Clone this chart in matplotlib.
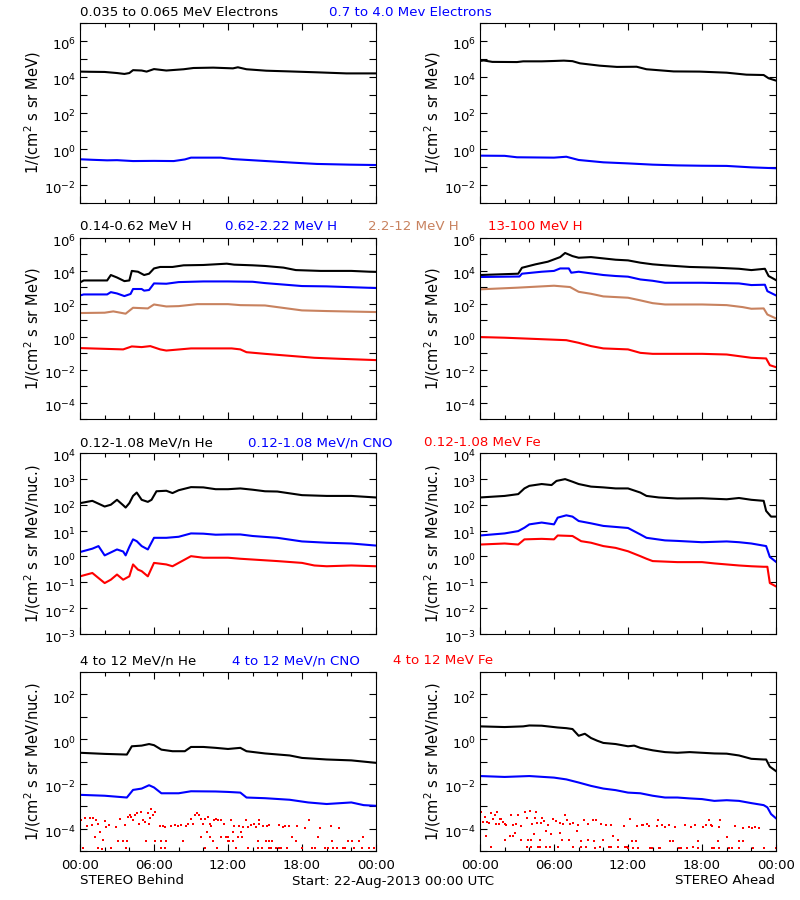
import numpy as np
import matplotlib
matplotlib.use('Agg')
import matplotlib.pyplot as plt
from matplotlib.ticker import MultipleLocator, NullLocator
from matplotlib.transforms import ScaledTranslation

# values are log10 of the flux, times are hours after 22-Aug-2013 00:00 UTC
# --- electrons (row 1), B = STEREO Behind, A = STEREO Ahead
e_lo_B_t = [0, 0.8, 2.0, 3.0, 3.6, 4.0, 4.3, 5.0, 5.4, 6.0, 7.0, 8.4, 9.2, 10.8, 12.4, 12.8, 13.5, 15.1, 17.0, 19.2, 21.6, 24]
e_lo_B_v = [4.30, 4.29, 4.28, 4.22, 4.17, 4.22, 4.38, 4.36, 4.30, 4.44, 4.36, 4.43, 4.50, 4.52, 4.48, 4.54, 4.43, 4.35, 4.31, 4.26, 4.20, 4.20]
e_hi_B_t = [0, 1, 2.2, 3, 4.3, 6, 7.6, 8.5, 9, 11.4, 12.4, 15.1, 17.3, 19.2, 21.9, 24]
e_hi_B_v = [-0.57, -0.60, -0.63, -0.62, -0.67, -0.66, -0.67, -0.58, -0.48, -0.48, -0.56, -0.67, -0.76, -0.83, -0.87, -0.89]
e_lo_A_t = [0, 0.3, 1, 3, 3.5, 5, 6, 6.8, 7.5, 8.1, 9.7, 11.1, 12.7, 13.5, 15.7, 17.8, 20, 21.6, 23, 23.4, 24]
e_lo_A_v = [4.89, 4.92, 4.84, 4.83, 4.87, 4.87, 4.89, 4.91, 4.88, 4.76, 4.63, 4.56, 4.57, 4.43, 4.31, 4.30, 4.24, 4.13, 4.11, 3.93, 3.80]
e_hi_A_t = [0, 2, 3, 6, 7, 8, 10, 12, 14, 16, 18, 20, 22, 24]
e_hi_A_v = [-0.37, -0.38, -0.46, -0.48, -0.43, -0.61, -0.74, -0.80, -0.87, -0.91, -0.93, -0.94, -1.02, -1.07]

# --- protons (row 2)
h1_B_t = [0, 0.3, 2.2, 2.5, 3.0, 3.6, 4.0, 4.2, 4.7, 5.2, 5.6, 6.0, 6.5, 7.5, 8.4, 10, 11.9, 12.5, 14, 15, 16.5, 17.5, 19.5, 22, 23.5, 24]
h1_B_v = [3.30, 3.42, 3.42, 3.75, 3.60, 3.38, 3.42, 4.00, 3.95, 3.75, 3.83, 4.15, 4.24, 4.24, 4.34, 4.36, 4.44, 4.38, 4.34, 4.30, 4.20, 4.05, 4.00, 4.00, 3.95, 3.94]
h2_B_t = [0, 0.3, 2.2, 2.5, 3, 3.6, 4.1, 4.3, 5, 5.2, 5.6, 6, 7, 8, 10, 12, 14, 15, 17, 18, 20, 24]
h2_B_v = [2.51, 2.57, 2.57, 2.71, 2.63, 2.47, 2.60, 2.90, 2.90, 2.80, 2.84, 3.24, 3.22, 3.32, 3.36, 3.36, 3.34, 3.26, 3.14, 3.08, 3.06, 2.96]
h3_B_t = [0, 2.0, 2.7, 3.7, 4.3, 5.5, 6, 7, 8, 9.5, 12, 13, 15, 17, 18, 20, 24]
h3_B_v = [1.44, 1.46, 1.54, 1.40, 1.76, 1.72, 1.96, 1.84, 1.86, 1.98, 1.98, 1.92, 1.90, 1.70, 1.60, 1.56, 1.50]
h4_B_t = [0, 3.5, 4.2, 5, 5.7, 6.5, 7, 9, 12.3, 13, 13.5, 15, 17, 19, 21, 24]
h4_B_v = [-0.69, -0.77, -0.59, -0.63, -0.57, -0.77, -0.84, -0.71, -0.71, -0.77, -0.94, -1.04, -1.16, -1.28, -1.34, -1.42]

h1_A_t = [0, 3.1, 3.4, 4.5, 5.5, 6.5, 6.9, 7.5, 8, 9, 10, 11, 12, 13, 14, 15, 17, 19, 21, 22, 23.1, 23.4, 24]
h1_A_v = [3.75, 3.83, 4.19, 4.40, 4.56, 4.84, 5.09, 4.90, 4.80, 4.84, 4.76, 4.68, 4.64, 4.50, 4.40, 4.34, 4.24, 4.20, 4.13, 4.05, 4.13, 3.69, 3.44]
h2_A_t = [0, 3.2, 3.4, 5, 6, 6.5, 7.2, 7.4, 8, 10, 11, 12, 13, 14, 15, 18, 21, 22, 23.1, 23.3, 24]
h2_A_v = [3.63, 3.66, 3.83, 3.95, 4.00, 4.15, 4.15, 3.89, 3.95, 3.75, 3.69, 3.65, 3.48, 3.40, 3.28, 3.28, 3.24, 3.14, 3.16, 2.77, 2.51]
h3_A_t = [0, 3, 6, 7.3, 8, 9, 10, 12, 13, 14, 15, 18, 20, 21.3, 22, 23, 23.3, 24]
h3_A_v = [2.88, 2.98, 3.10, 3.02, 2.73, 2.61, 2.45, 2.37, 2.21, 2.04, 1.96, 1.96, 1.92, 1.80, 1.70, 1.72, 1.35, 1.11]
h4_A_t = [0, 2, 5, 7, 8, 9, 10, 12, 13, 14, 18, 20, 22, 23.2, 23.5, 24]
h4_A_v = [-0.02, -0.06, -0.15, -0.21, -0.37, -0.57, -0.71, -0.77, -0.98, -1.04, -1.04, -1.08, -1.28, -1.32, -1.73, -1.85]

# --- low energy ions (row 3)
he_B_t = [0, 1, 2, 2.5, 3, 3.5, 3.7, 4, 4.3, 4.6, 5, 5.5, 5.8, 6.2, 7, 7.5, 8, 9, 10, 11, 12, 13, 14, 15, 16, 18, 20, 22, 24]
he_B_v = [2.06, 2.15, 1.93, 2.00, 2.19, 1.98, 1.89, 2.06, 2.34, 2.47, 2.19, 2.11, 2.19, 2.52, 2.54, 2.45, 2.56, 2.68, 2.67, 2.60, 2.60, 2.63, 2.58, 2.52, 2.51, 2.37, 2.34, 2.34, 2.28]
cno_B_t = [0, 1, 1.5, 2, 3, 3.5, 3.7, 4, 4.3, 4.6, 5, 5.5, 6, 7, 8, 9, 10, 11, 12, 13, 14, 16, 18, 20, 22, 24]
cno_B_v = [0.17, 0.30, 0.40, 0.04, 0.27, 0.19, 0.04, 0.37, 0.66, 0.59, 0.40, 0.27, 0.72, 0.72, 0.76, 0.89, 0.88, 0.84, 0.85, 0.85, 0.79, 0.72, 0.58, 0.53, 0.50, 0.42]
fe_B_t = [0, 1, 2, 2.5, 3, 3.5, 4, 4.3, 4.7, 5, 5.5, 6, 7, 7.5, 8, 9, 10, 12, 13, 15, 16, 18, 19, 20, 22, 24]
fe_B_v = [-0.77, -0.64, -1.03, -0.90, -0.70, -0.90, -0.77, -0.31, -0.51, -0.57, -0.77, -0.25, -0.31, -0.38, -0.25, 0.01, -0.05, -0.05, -0.09, -0.15, -0.18, -0.25, -0.35, -0.38, -0.35, -0.38]

he_A_t = [0, 2, 3.1, 3.6, 4, 5, 5.8, 6.2, 6.9, 7.5, 8, 9, 10, 11, 12, 13, 13.5, 14.5, 16, 18, 20, 21, 22, 23, 23.2, 23.6, 24]
he_A_v = [2.28, 2.34, 2.41, 2.63, 2.73, 2.80, 2.76, 2.92, 2.99, 2.89, 2.80, 2.70, 2.67, 2.63, 2.63, 2.47, 2.34, 2.28, 2.24, 2.25, 2.21, 2.26, 2.19, 2.15, 1.76, 1.54, 1.54]
cno_A_t = [0, 2, 3.1, 3.6, 4, 5, 6, 6.3, 7, 7.5, 8, 9, 10, 11, 12, 13, 13.5, 15, 16, 18, 20, 21, 22, 23.2, 23.5, 24]
cno_A_v = [0.81, 0.89, 0.98, 1.11, 1.24, 1.31, 1.24, 1.50, 1.59, 1.54, 1.37, 1.28, 1.18, 1.14, 1.10, 0.85, 0.72, 0.62, 0.60, 0.55, 0.58, 0.55, 0.50, 0.40, -0.02, -0.21]
fe_A_t = [0, 2, 3.1, 3.6, 5, 6, 6.3, 7.5, 8.2, 9, 10, 11, 12, 13, 13.5, 14, 16, 18, 19, 20, 21, 22, 23, 23.3, 23.5, 24]
fe_A_v = [0.46, 0.50, 0.46, 0.66, 0.68, 0.66, 0.81, 0.79, 0.59, 0.53, 0.40, 0.33, 0.20, 0.01, -0.09, -0.18, -0.22, -0.22, -0.27, -0.31, -0.35, -0.38, -0.40, -0.40, -1.03, -1.16]

# --- high energy ions (row 4)
he4_B_t = [0, 2, 3.8, 4.2, 5, 5.6, 6, 6.6, 7.5, 8.5, 9, 10, 11, 12, 13, 13.5, 15, 17, 18, 20, 22, 24]
he4_B_v = [-0.61, -0.66, -0.69, -0.32, -0.29, -0.22, -0.27, -0.47, -0.54, -0.54, -0.35, -0.35, -0.39, -0.44, -0.39, -0.54, -0.64, -0.73, -0.84, -0.91, -0.95, -1.06]
cno4_B_t = [0, 2, 3.8, 4.3, 5, 5.6, 6, 6.6, 8, 9, 11, 12, 13, 13.5, 15, 17, 18.5, 20, 22, 23, 24]
cno4_B_v = [-2.49, -2.53, -2.61, -2.27, -2.21, -2.06, -2.16, -2.42, -2.42, -2.33, -2.34, -2.36, -2.39, -2.61, -2.64, -2.71, -2.83, -2.90, -2.83, -2.95, -2.98]
fe4_B_dots = [
    (0.11, -3.61), (0.43, -3.52), (0.79, -3.52), (1.06, -3.52), (1.33, -3.60), (0.60, -3.90), (0.97, -3.86),
    (1.46, -3.81), (1.60, -4.15), (1.19, -4.37), (1.87, -4.49), (2.00, -3.66), (2.32, -3.86), (2.14, -3.93),
    (2.54, -4.86), (1.78, -4.89), (0.27, -4.85), (1.46, -4.86), (2.95, -3.93), (3.08, -4.56), (3.22, -3.56),
    (3.49, -4.56), (3.62, -3.86), (3.84, -4.56), (3.76, -4.86), (3.89, -3.50), (4.03, -3.41), (4.16, -3.46),
    (4.30, -3.63), (4.43, -3.37), (4.65, -3.31), (4.75, -3.81), (4.97, -3.27), (5.10, -3.61), (5.24, -3.71),
    (5.51, -3.31), (5.64, -3.52), (5.78, -3.12), (5.92, -3.37), (5.38, -4.56), (5.56, -3.78), (6.05, -4.56),
    (6.10, -3.27), (6.45, -3.90), (6.72, -3.90), (6.91, -3.93), (6.59, -4.56), (7.00, -4.56), (6.54, -4.86),
    (6.91, -4.86), (7.40, -3.90), (7.67, -3.86), (7.94, -3.90), (8.21, -3.86), (8.35, -4.56), (8.62, -3.90),
    (8.75, -3.81), (9.02, -3.56), (9.16, -3.81), (9.34, -3.41), (9.51, -3.31), (9.61, -3.37), (9.83, -3.56),
    (9.97, -3.81), (10.10, -3.56), (10.37, -3.46), (10.50, -3.81), (10.64, -3.90), (10.86, -3.63), (11.05, -3.56),
    (11.18, -3.63), (11.45, -3.61), (11.67, -3.81), (9.83, -4.37), (10.32, -4.15), (10.50, -4.37), (10.78, -4.56),
    (10.10, -4.86), (11.13, -4.86), (11.45, -4.37), (11.86, -4.37), (12.00, -4.56),
    (12.24, -3.63), (12.52, -3.90), (12.87, -3.90), (13.19, -3.93), (13.46, -3.60), (13.60, -3.93), (13.87, -3.86),
    (14.14, -3.78), (14.27, -3.93), (14.49, -3.63), (14.54, -3.81), (14.86, -3.90), (15.13, -3.90), (15.30, -3.86),
    (16.11, -3.86), (16.43, -3.93), (16.65, -3.90), (16.92, -3.90), (17.56, -3.90), (18.27, -3.96), (18.59, -3.63),
    (19.45, -3.96), (20.35, -3.90), (21.02, -3.96), (12.38, -4.15), (13.06, -4.15), (12.79, -4.37), (13.14, -4.37),
    (11.98, -4.37), (12.06, -4.56), (12.38, -4.56), (14.41, -4.56), (15.08, -4.56), (15.30, -4.56), (15.57, -4.56),
    (17.19, -4.37), (17.51, -4.56), (19.27, -4.37), (20.43, -4.56), (21.70, -4.56), (22.05, -4.56), (22.59, -4.56),
    (22.97, -4.37), (12.65, -4.86), (13.60, -4.86), (14.41, -4.86), (14.76, -4.86), (15.35, -4.86), (15.49, -4.86),
    (15.89, -4.86), (16.11, -4.86), (16.30, -4.86), (16.75, -4.86), (18.00, -4.86), (18.80, -4.86), (19.08, -4.86),
    (19.89, -4.86), (20.08, -4.86), (20.53, -4.86), (20.80, -4.86), (21.29, -4.86), (21.50, -4.86), (22.24, -4.86),
    (22.86, -4.86), (23.40, -4.86), (23.86, -4.86),
]

he4_A_t = [0, 2, 3.5, 4, 5, 6.3, 7, 7.5, 8, 8.5, 9, 9.5, 10, 11, 12, 12.5, 13, 14, 15, 16, 17, 18, 19, 20, 21, 22, 23, 23.2, 23.5, 24]
he4_A_v = [0.57, 0.54, 0.57, 0.61, 0.60, 0.52, 0.49, 0.45, 0.15, 0.24, 0.05, -0.07, -0.17, -0.22, -0.32, -0.29, -0.39, -0.50, -0.58, -0.61, -0.58, -0.61, -0.64, -0.65, -0.73, -0.88, -0.91, -0.91, -1.23, -1.43]
cno4_A_t = [0, 2, 4, 6, 7, 8, 9, 10, 11, 12, 13, 14, 15, 16, 17, 18, 19, 20, 21, 22, 23, 23.3, 23.6, 24]
cno4_A_v = [-1.65, -1.69, -1.65, -1.72, -1.80, -1.94, -2.09, -2.21, -2.28, -2.39, -2.42, -2.53, -2.61, -2.61, -2.65, -2.68, -2.76, -2.73, -2.76, -2.86, -2.95, -3.05, -3.35, -3.54]
fe4_A_dots = [
    (0.06, -3.27), (0.25, -3.71), (0.43, -3.46), (0.60, -3.71), (0.70, -3.75), (0.87, -3.31), (1.06, -3.56),
    (1.19, -3.41), (1.41, -3.27), (1.33, -3.81), (1.51, -3.81), (1.60, -3.56), (1.73, -3.56), (1.87, -3.71),
    (2.00, -3.81), (2.14, -3.86), (2.49, -3.37), (2.68, -3.86), (2.95, -3.78), (3.08, -3.41), (3.35, -3.90),
    (3.62, -3.27), (3.84, -3.52), (4.03, -3.19), (4.21, -3.81), (4.43, -3.52), (4.56, -3.27), (4.65, -3.75),
    (4.92, -3.75), (5.02, -3.52), (5.19, -3.66), (5.51, -3.86), (5.92, -3.56), (6.19, -3.66), (6.45, -3.75),
    (6.86, -3.37), (6.72, -3.81), (7.08, -3.61), (7.27, -3.81), (7.54, -3.75), (7.94, -3.86), (7.89, -4.12),
    (8.43, -3.61), (8.75, -3.81), (9.16, -3.61), (9.43, -3.63), (9.83, -3.81), (10.24, -3.86), (10.59, -3.86),
    (11.67, -3.90), (0.51, -4.33), (2.00, -4.52), (2.40, -4.33), (2.68, -4.33), (2.86, -4.19), (3.35, -4.49),
    (3.89, -4.49), (4.16, -4.49), (4.38, -4.22), (4.83, -4.49), (5.38, -4.12), (5.78, -4.24), (6.45, -4.18),
    (6.64, -4.49), (7.18, -4.52), (8.21, -4.55), (8.75, -4.52), (9.24, -4.55), (9.97, -4.49), (10.78, -4.34),
    (11.18, -4.52), (0.92, -4.83), (3.84, -4.80), (4.16, -4.80), (4.70, -4.83), (4.83, -4.83), (5.38, -4.80),
    (5.64, -4.80), (6.32, -4.80), (7.54, -4.83), (8.21, -4.83), (8.62, -4.83), (9.34, -4.85), (9.70, -4.83),
    (10.42, -4.83), (10.64, -4.83), (11.18, -4.83), (11.72, -4.83), (11.94, -4.83),
    (12.16, -3.56), (12.70, -3.90), (13.14, -3.86), (13.24, -3.86), (13.51, -3.81), (13.68, -3.90), (14.41, -3.63),
    (14.32, -3.90), (14.76, -3.86), (15.03, -3.93), (15.30, -3.86), (15.84, -3.93), (16.65, -3.86), (17.10, -3.93),
    (17.46, -3.86), (18.10, -3.93), (18.32, -3.86), (18.54, -3.63), (18.73, -3.86), (18.81, -3.90), (19.40, -3.93),
    (19.45, -3.63), (20.70, -3.90), (21.29, -3.96), (21.78, -3.93), (22.05, -3.96), (22.32, -3.93), (22.59, -3.96),
    (19.99, -4.37), (12.33, -4.56), (12.65, -4.56), (15.40, -4.56), (15.62, -4.56), (17.65, -4.56), (19.27, -4.56),
    (21.02, -4.56), (21.34, -4.56), (11.98, -4.86), (12.43, -4.86), (12.79, -4.86), (13.78, -4.86), (13.95, -4.86),
    (14.49, -4.86), (14.60, -4.86), (16.11, -4.86), (16.30, -4.86), (16.75, -4.86), (17.24, -4.80), (17.65, -4.86),
    (18.81, -4.86), (19.00, -4.86), (19.40, -4.86), (20.16, -4.86), (20.43, -4.86), (21.02, -4.86), (22.10, -4.86),
    (23.05, -4.86), (24.00, -4.86),
]

hour_ticks = [0, 6, 12, 18, 24]
hour_labels = ['00:00', '06:00', '12:00', '18:00', '00:00']

BLUE = '#0000ff'
RED = '#ff0000'
BROWN = '#c8825f'

fig = plt.figure(figsize=(8, 9), dpi=100, facecolor='white')
label_shift = ScaledTranslation(0, -0.03, fig.dpi_scale_trans)


def make_axes(left_px, top_px, bot_px):
    return fig.add_axes([left_px / 800, 1 - bot_px / 900, 296 / 800, (bot_px - top_px) / 900])


def setup(ax, lo, hi, labeled, ylabel, bottom=False):
    ax.set_yscale('log')
    ax.set_ylim(10.0 ** lo, 10.0 ** hi)
    ax.set_xlim(0, 24)
    exps = list(range(lo, hi + 1))
    ax.set_yticks([10.0 ** k for k in exps])
    ax.set_yticklabels([r'$10^{%d}$' % k if k in labeled else '' for k in exps])
    ax.yaxis.set_minor_locator(NullLocator())
    ax.set_xticks(hour_ticks)
    ax.xaxis.set_minor_locator(MultipleLocator(2))
    if bottom:
        ax.set_xticklabels(hour_labels)
    else:
        ax.set_xticklabels([])
    ax.tick_params(which='both', direction='in', top=True, right=True,
                   labelsize=9.5, width=0.8)
    ax.tick_params(which='major', length=5)
    ax.tick_params(which='minor', length=2.8)
    ax.tick_params(axis='y', pad=3)
    ax.tick_params(axis='x', pad=6)
    for s in ax.spines.values():
        s.set_linewidth(0.8)
    ax.set_ylabel(ylabel, fontsize=10.5)
    ax.yaxis.set_label_coords(-0.125, 0.5)
    # exponent sits above the tick, like the original
    for lbl in ax.get_yticklabels():
        lbl.set_transform(lbl.get_transform() + label_shift)


def curve(ax, t, v, color):
    ax.plot(t, 10.0 ** np.asarray(v), color=color, lw=1.5)


def dots(ax, pts, color):
    t, v = zip(*pts)
    ax.plot(t, 10.0 ** np.asarray(v), 's', color=color, ms=2.0, mew=0, ls='none')


lab1 = r'1/(cm$^2$ s sr MeV)'
lab2 = r'1/(cm$^2$ s sr MeV/nuc.)'

# row 1: electrons
ax = make_axes(80, 23, 203)
curve(ax, e_lo_B_t, e_lo_B_v, 'black')
curve(ax, e_hi_B_t, e_hi_B_v, BLUE)
setup(ax, -3, 7, [6, 4, 2, 0, -2], lab1)
ax = make_axes(480, 23, 203)
curve(ax, e_lo_A_t, e_lo_A_v, 'black')
curve(ax, e_hi_A_t, e_hi_A_v, BLUE)
setup(ax, -3, 7, [6, 4, 2, 0, -2], lab1)

# row 2: protons
ax = make_axes(80, 238, 419)
curve(ax, h1_B_t, h1_B_v, 'black')
curve(ax, h2_B_t, h2_B_v, BLUE)
curve(ax, h3_B_t, h3_B_v, BROWN)
curve(ax, h4_B_t, h4_B_v, RED)
setup(ax, -5, 6, [6, 4, 2, 0, -2, -4], lab1)
ax = make_axes(480, 238, 419)
curve(ax, h1_A_t, h1_A_v, 'black')
curve(ax, h2_A_t, h2_A_v, BLUE)
curve(ax, h3_A_t, h3_A_v, BROWN)
curve(ax, h4_A_t, h4_A_v, RED)
setup(ax, -5, 6, [6, 4, 2, 0, -2, -4], lab1)

# row 3: low energy ions
ax = make_axes(80, 453, 634)
curve(ax, he_B_t, he_B_v, 'black')
curve(ax, cno_B_t, cno_B_v, BLUE)
curve(ax, fe_B_t, fe_B_v, RED)
setup(ax, -3, 4, list(range(-3, 5)), lab2)
ax = make_axes(480, 453, 634)
curve(ax, he_A_t, he_A_v, 'black')
curve(ax, cno_A_t, cno_A_v, BLUE)
curve(ax, fe_A_t, fe_A_v, RED)
setup(ax, -3, 4, list(range(-3, 5)), lab2)

# row 4: high energy ions
ax = make_axes(80, 672, 851)
curve(ax, he4_B_t, he4_B_v, 'black')
curve(ax, cno4_B_t, cno4_B_v, BLUE)
dots(ax, fe4_B_dots, RED)
setup(ax, -5, 3, [2, 0, -2, -4], lab2, bottom=True)
ax = make_axes(480, 672, 851)
curve(ax, he4_A_t, he4_A_v, 'black')
curve(ax, cno4_A_t, cno4_A_v, BLUE)
dots(ax, fe4_A_dots, RED)
setup(ax, -5, 3, [2, 0, -2, -4], lab2, bottom=True)

# channel titles
fs = 9.6
def title(x_px, y_px, s, color='black', ha='left'):
    fig.text(x_px / 800, 1 - y_px / 900, s, color=color, fontsize=fs, ha=ha, va='center')

title(80, 12, '0.035 to 0.065 MeV Electrons')
title(329, 12, '0.7 to 4.0 Mev Electrons', BLUE)
title(80, 227, '0.14-0.62 MeV H')
title(225, 227, '0.62-2.22 MeV H', BLUE)
title(368, 227, '2.2-12 MeV H', BROWN)
title(488, 227, '13-100 MeV H', RED)
title(80, 443, '0.12-1.08 MeV/n He')
title(248, 443, '0.12-1.08 MeV/n CNO', BLUE)
title(424, 443, '0.12-1.08 MeV Fe', RED)
title(80, 661, '4 to 12 MeV/n He')
title(232, 661, '4 to 12 MeV/n CNO', BLUE)
title(393, 661, '4 to 12 MeV Fe', RED)
title(80, 881, 'STEREO Behind')
title(292, 881, 'Start: 22-Aug-2013 00:00 UTC')
title(775, 881, 'STEREO Ahead', ha='right')

fig.savefig('out.png', dpi=100)
